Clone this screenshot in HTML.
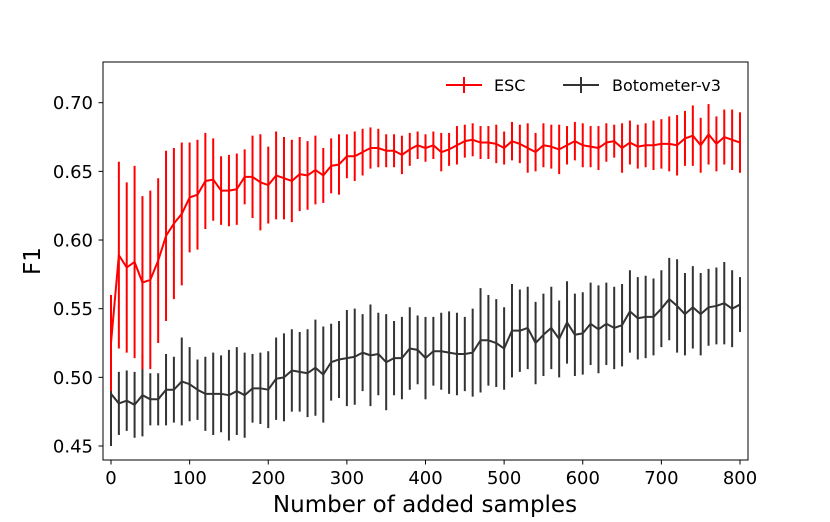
<!DOCTYPE html>
<html><head><meta charset="utf-8"><style>
body{margin:0;background:#fff;}
svg text{font-family:"DejaVu Sans","Liberation Sans",sans-serif;fill:#000;}
</style></head><body>
<svg id="chart" width="830" height="517" viewBox="0 0 830 517" xmlns="http://www.w3.org/2000/svg">
<rect width="830" height="517" fill="#fff"/>
<g id="marks"></g>
<rect x="103" y="62" width="645" height="398" fill="none" stroke="#000" stroke-width="1"/>
<g id="axes"></g>
<text x="425" y="512" font-size="23" text-anchor="middle">Number of added samples</text>
<text transform="translate(40,261) rotate(-90)" font-size="23" text-anchor="middle">F1</text>
<g>
<g>
<line x1="446" y1="85" x2="482" y2="85" stroke="#f00" stroke-width="2"/>
<line x1="464" y1="77" x2="464" y2="93" stroke="#f00" stroke-width="2"/>
<text x="494" y="91" font-size="16">ESC</text>
</g>
<g>
<line x1="563" y1="85" x2="599" y2="85" stroke="#333" stroke-width="2"/>
<line x1="581" y1="77" x2="581" y2="93" stroke="#333" stroke-width="2"/>
<text x="612" y="91" font-size="16">Botometer-v3</text>
</g>
</g>
</svg>
<script>
const xValues = [];
for (let i = 0; i <= 80; i++) xValues.push(i * 10);
const escMean = [0.525,0.589,0.580,0.584,0.569,0.571,0.585,0.603,0.612,0.619,
0.631,0.633,0.643,0.644,0.636,0.636,0.637,0.646,0.646,0.642,
0.640,0.647,0.645,0.643,0.648,0.647,0.651,0.647,0.654,0.655,
0.661,0.661,0.664,0.667,0.667,0.665,0.665,0.662,0.666,0.669,
0.667,0.669,0.664,0.666,0.669,0.672,0.673,0.671,0.671,0.670,
0.667,0.672,0.670,0.667,0.664,0.669,0.668,0.666,0.669,0.672,
0.669,0.668,0.667,0.671,0.672,0.667,0.671,0.668,0.669,0.669,
0.670,0.670,0.669,0.674,0.676,0.669,0.677,0.670,0.675,0.673,0.671];
const escErr = [0.035,0.068,0.062,0.070,0.063,0.065,0.060,0.062,0.055,0.052,
0.040,0.040,0.035,0.030,0.025,0.026,0.026,0.020,0.030,0.035,
0.028,0.032,0.030,0.030,0.027,0.025,0.025,0.020,0.020,0.022,
0.016,0.018,0.017,0.015,0.014,0.012,0.012,0.014,0.012,0.010,
0.010,0.010,0.014,0.012,0.014,0.012,0.012,0.012,0.012,0.014,
0.012,0.014,0.014,0.018,0.014,0.016,0.016,0.018,0.014,0.014,
0.016,0.015,0.016,0.014,0.012,0.018,0.016,0.016,0.016,0.018,
0.018,0.020,0.022,0.020,0.022,0.020,0.022,0.020,0.020,0.022,0.022];
const botMean = [0.488,0.481,0.483,0.480,0.487,0.484,0.484,0.491,0.491,0.497,
0.495,0.491,0.488,0.488,0.488,0.487,0.490,0.487,0.492,0.492,
0.491,0.499,0.500,0.505,0.504,0.503,0.507,0.502,0.511,0.513,
0.514,0.515,0.518,0.516,0.517,0.511,0.514,0.514,0.521,0.520,
0.514,0.519,0.519,0.518,0.517,0.517,0.518,0.527,0.527,0.525,
0.521,0.534,0.534,0.536,0.525,0.531,0.536,0.528,0.540,0.531,
0.532,0.539,0.535,0.539,0.536,0.538,0.548,0.543,0.544,0.544,
0.550,0.557,0.552,0.546,0.551,0.546,0.551,0.552,0.554,0.550,0.553];
const botErr = [0.038,0.023,0.022,0.024,0.030,0.019,0.019,0.026,0.024,0.032,
0.027,0.022,0.027,0.030,0.028,0.033,0.032,0.031,0.025,0.026,
0.028,0.030,0.032,0.030,0.029,0.032,0.035,0.035,0.028,0.028,
0.035,0.035,0.028,0.037,0.030,0.035,0.027,0.030,0.030,0.025,
0.030,0.025,0.028,0.030,0.030,0.027,0.032,0.038,0.033,0.032,
0.030,0.034,0.030,0.030,0.030,0.030,0.030,0.028,0.030,0.030,
0.030,0.030,0.032,0.030,0.030,0.030,0.030,0.030,0.030,0.028,
0.028,0.030,0.034,0.030,0.030,0.030,0.028,0.028,0.030,0.028,0.020];
const xTicks = [0,100,200,300,400,500,600,700,800];
const yTicks = [0.45,0.50,0.55,0.60,0.65,0.70];
const yTickLabels = ["0.45","0.50","0.55","0.60","0.65","0.70"];

const NS = "http://www.w3.org/2000/svg";
function xs(v){ return 111 + v * (629 / 800); }
function ys(v){ return 102.7 + (0.70 - v) * (343.3 / 0.25); }
const marks = document.getElementById('marks');
const axes = document.getElementById('axes');
function mk(tag, attrs, parent){
  const e = document.createElementNS(NS, tag);
  for (const k in attrs) e.setAttribute(k, attrs[k]);
  parent.appendChild(e);
  return e;
}
function series(mean, err, color, name){
  const g = mk('g', {}, marks);
  
  
  for (let i = 0; i < xValues.length; i++){
    const b = mk('line', {x1: xs(xValues[i]), x2: xs(xValues[i]), y1: ys(mean[i] - err[i]), y2: ys(mean[i] + err[i]), stroke: color, 'stroke-width': 2}, g);
    
    
  }
  const pts = xValues.map((x, i) => xs(x) + ',' + ys(mean[i])).join(' ');
  const l = mk('polyline', {points: pts, fill: 'none', stroke: color, 'stroke-width': 2, 'stroke-linejoin': 'round'}, g);
  
  
}
series(botMean, botErr, '#333333', 'botometer');
series(escMean, escErr, '#ff0000', 'esc');
xTicks.forEach(v => {
  const t = mk('line', {x1: xs(v), x2: xs(v), y1: 460, y2: 464.5, stroke: '#000'}, axes);
  
  
  const tx = mk('text', {x: xs(v), y: 484, 'font-size': 18, 'text-anchor': 'middle'}, axes);
  tx.textContent = String(v);
  
  
});
yTicks.forEach((v, i) => {
  const t = mk('line', {x1: 98.5, x2: 103, y1: ys(v), y2: ys(v), stroke: '#000'}, axes);
  
  
  const tx = mk('text', {x: 93, y: ys(v) + 6.5, 'font-size': 18, 'text-anchor': 'end'}, axes);
  tx.textContent = yTickLabels[i];
  
  
});
</script>
</body></html>
